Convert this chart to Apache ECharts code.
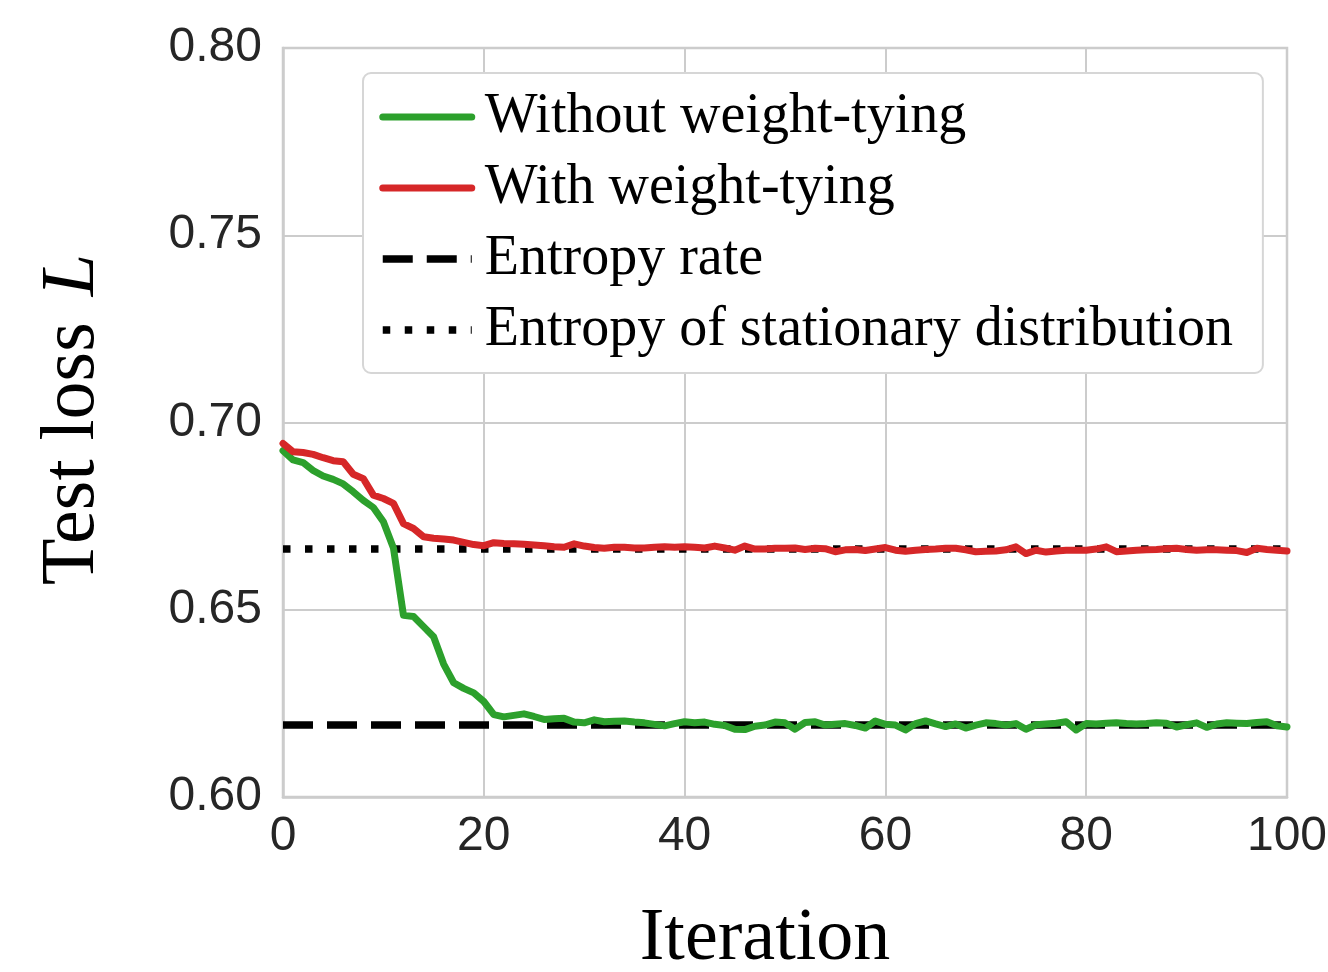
<!DOCTYPE html>
<html>
<head>
<meta charset="utf-8">
<script src="https://cdn.jsdelivr.net/npm/echarts@6/dist/echarts.min.js"></script>
<style>
html,body{margin:0;padding:0;background:#fff;}
#chart{width:1328px;height:972px;}
</style>
</head>
<body>
<div id="chart"></div>
<script>
// ---- data ----
const iterations = Array.from({length: 101}, (_, i) => i);
const withoutTying = [
  0.6925,0.6900,0.6893,0.6872,0.6857,0.6848,0.6836,0.6815,0.6792,0.6773,
  0.6735,0.6665,0.6485,0.6482,0.6455,0.6428,0.6355,0.6305,0.6290,0.6278,
  0.6255,0.6220,0.6214,0.6218,0.6222,0.6215,0.6207,0.6209,0.6210,0.6200,
  0.6198,0.6206,0.6201,0.6202,0.6203,0.6200,0.6198,0.6194,0.6190,0.6196,
  0.6201,0.6198,0.6200,0.6194,0.6191,0.6181,0.6180,0.6189,0.6192,0.6200,
  0.6198,0.6181,0.6199,0.6201,0.6192,0.6194,0.6196,0.6191,0.6184,0.6203,
  0.6194,0.6192,0.6179,0.6196,0.6203,0.6195,0.6188,0.6195,0.6184,0.6192,
  0.6198,0.6196,0.6192,0.6196,0.6181,0.6193,0.6195,0.6197,0.6201,0.6179,
  0.6196,0.6195,0.6197,0.6198,0.6196,0.6195,0.6196,0.6198,0.6197,0.6187,
  0.6193,0.6198,0.6186,0.6195,0.6198,0.6197,0.6196,0.6199,0.6201,0.6190,
  0.6187
];
const withTying = [
  0.6944,0.6922,0.6920,0.6915,0.6906,0.6898,0.6895,0.6862,0.6850,0.6806,
  0.6797,0.6784,0.6730,0.6717,0.6695,0.6691,0.6689,0.6686,0.6680,0.6674,
  0.6671,0.6679,0.6677,0.6676,0.6675,0.6673,0.6671,0.6668,0.6667,0.6676,
  0.6670,0.6666,0.6664,0.6667,0.6667,0.6665,0.6665,0.6667,0.6668,0.6667,
  0.6668,0.6667,0.6665,0.6670,0.6665,0.6659,0.6670,0.6662,0.6662,0.6664,
  0.6664,0.6665,0.6661,0.6664,0.6663,0.6655,0.6660,0.6661,0.6658,0.6662,
  0.6666,0.6659,0.6656,0.6659,0.6661,0.6662,0.6664,0.6664,0.6660,0.6655,
  0.6656,0.6657,0.6660,0.6668,0.6650,0.6659,0.6654,0.6657,0.6659,0.6659,
  0.6659,0.6662,0.6668,0.6655,0.6657,0.6659,0.6660,0.6661,0.6663,0.6664,
  0.6661,0.6659,0.6660,0.6660,0.6659,0.6658,0.6653,0.6664,0.6661,0.6659,
  0.6657
];
const entropyRate = 0.6192;
const stationaryEntropy = 0.6662;
const xTicks = [0, 20, 40, 60, 80, 100];
const yTicks = [0.60, 0.65, 0.70, 0.75, 0.80];
const seriesNames = ['Without weight-tying', 'With weight-tying', 'Entropy rate', 'Entropy of stationary distribution'];

// ---- chart ----
const xMin = xTicks[0], xMax = xTicks[xTicks.length - 1];
const yMin = yTicks[0], yMax = yTicks[yTicks.length - 1];
const pair = (xs, ys) => xs.map((x, i) => [x, ys[i]]);
const serif = '"Liberation Serif", "DejaVu Serif", serif';
const sans = '"Liberation Sans", Arial, sans-serif';

const chart = echarts.init(document.getElementById('chart'), null, {renderer: 'canvas'});
chart.setOption({
  animation: false,
  backgroundColor: '#ffffff',
  grid: {left: 283, right: 41, top: 48, bottom: 175, show: true, borderColor: '#cccccc', borderWidth: 2.5,
         containLabel: false, outerBoundsMode: 'none'},
  xAxis: {
    type: 'value', min: xMin, max: xMax, interval: 20,
    name: 'Iteration', nameLocation: 'middle', nameGap: 106,
    nameTextStyle: {fontFamily: serif, fontSize: 74, color: '#000', padding: [0, 40, 0, 0]},
    axisLine: {show: true, lineStyle: {color: '#cccccc', width: 2.5}},
    axisTick: {show: false},
    axisLabel: {fontFamily: sans, fontSize: 48, color: '#262626', margin: 16},
    splitLine: {show: true, lineStyle: {color: '#cccccc', width: 2}}
  },
  yAxis: {
    type: 'value', min: yMin, max: yMax, interval: 0.05,
    name: '{a|Test loss }{b|L}', nameLocation: 'middle', nameGap: 172, nameRotate: 90,
    nameTextStyle: {
      padding: [0, 0, 0, 6],
      rich: {
        a: {fontFamily: serif, fontSize: 76, color: '#000'},
        b: {fontFamily: serif, fontSize: 76, fontStyle: 'italic', color: '#000', padding: [0, 0, 0, 7]}
      }
    },
    axisLine: {show: true, lineStyle: {color: '#cccccc', width: 2.5}},
    axisTick: {show: false},
    axisLabel: {fontFamily: sans, fontSize: 48, color: '#262626', margin: 21, formatter: v => v.toFixed(2)},
    splitLine: {show: true, lineStyle: {color: '#cccccc', width: 2}}
  },
  legend: {
    data: seriesNames,
    orient: 'vertical', left: 363, top: 73,
    padding: [14, 30, 13, 16],
    itemWidth: 89, itemHeight: 14, itemGap: 11,
    backgroundColor: '#ffffff', borderColor: '#d6d6d6', borderWidth: 2, borderRadius: 8,
    textStyle: {fontFamily: serif, fontSize: 56, color: '#000', lineHeight: 60, padding: [0, 0, 0, 8]},
    itemStyle: {opacity: 0},
    lineStyle: {width: 'inherit'}
  },
  series: [
    {
      name: seriesNames[2], type: 'line', data: pair([xMin, xMax], [entropyRate, entropyRate]),
      showSymbol: false, symbol: 'none', z: 2,
      lineStyle: {color: '#000', width: 7.5, type: [30, 14], cap: 'butt'}, itemStyle: {color: '#000'}
    },
    {
      name: seriesNames[3], type: 'line', data: pair([xMin, xMax], [stationaryEntropy, stationaryEntropy]),
      showSymbol: false, symbol: 'none', z: 2,
      lineStyle: {color: '#000', width: 7.5, type: [7.5, 14.5], cap: 'butt'}, itemStyle: {color: '#000'}
    },
    {
      name: seriesNames[0], type: 'line', data: pair(iterations, withoutTying),
      showSymbol: false, symbol: 'none', z: 3,
      lineStyle: {color: '#2ca02c', width: 7, join: 'round', cap: 'round'}, itemStyle: {color: '#2ca02c'}
    },
    {
      name: seriesNames[1], type: 'line', data: pair(iterations, withTying),
      showSymbol: false, symbol: 'none', z: 4,
      lineStyle: {color: '#d62728', width: 7, join: 'round', cap: 'round'}, itemStyle: {color: '#d62728'}
    }
  ]
});
</script>
</body>
</html>
